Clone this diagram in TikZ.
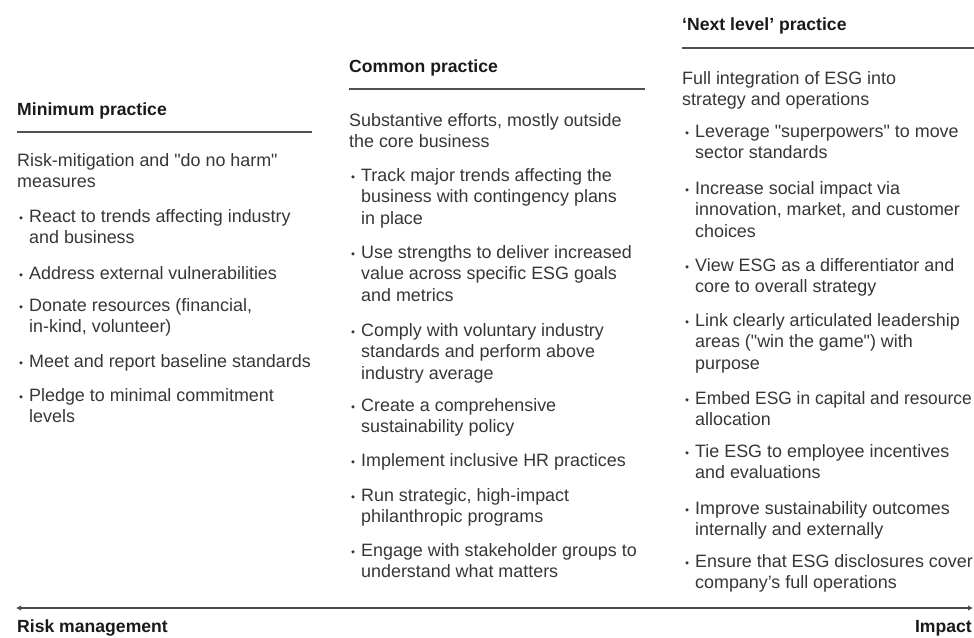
\documentclass[tikz,border=0pt]{standalone}
\usepackage{fontspec}
\setmainfont{Liberation Sans}[Ligatures=TeXOff]
\usetikzlibrary{arrows.meta}
\definecolor{bodyc}{HTML}{363636}
\definecolor{headc}{HTML}{1A1A1A}
\definecolor{rulec}{HTML}{48525A}
\definecolor{axisc}{HTML}{4A4A4A}
\newcommand\ml[1]{\begin{tabular}[t]{@{}l@{}}#1\end{tabular}}
\tikzset{
  txt/.style={inner sep=0pt, anchor=base west, text=bodyc, font=\fontsize{17.9}{21.3}\selectfont},
  head/.style={inner sep=0pt, anchor=base west, text=headc, font=\fontsize{17.6}{21.3}\selectfont\bfseries},
  rulestyle/.style={draw=rulec, line width=2.4pt},
  axisstyle/.style={draw=axisc, line width=2.6pt, {Latex[length=5pt,width=5.5pt]}-{Latex[length=5pt,width=5.5pt]}},
  bdot/.style={fill=bodyc}
}
\newcommand\bitem[4]{%
  \node[txt] (#1) at (#2,#3) {\ml{#4}};
  \fill[bdot] ([xshift=-8pt,yshift=4.6pt]#1.base west) circle (1.8pt);
}
\begin{document}
\begin{tikzpicture}[x=1pt,y=-1pt]
\useasboundingbox (0,0) rectangle (974,637);

% ---------- Column 1 ----------
\node[head] (h1) at (17,115.5) {Minimum practice};
\coordinate (r1a) at (17,132);
\coordinate (r1b) at (312,132);
\draw[rulestyle] (r1a) -- (r1b);
\node[txt] (s1) at (17,166.5) {\ml{Risk-mitigation and "do no harm"\\measures}};
\bitem{a1}{29}{222.5}{React to trends affecting industry\\and business}
\bitem{a2}{29}{279.5}{Address external vulnerabilities}
\bitem{a3}{29}{311.5}{Donate resources (financial,\\in-kind, volunteer)}
\bitem{a4}{29}{367.5}{Meet and report baseline standards}
\bitem{a5}{29}{401.5}{Pledge to minimal commitment\\levels}

% ---------- Column 2 ----------
\node[head] (h2) at (349,72.5) {Common practice};
\coordinate (r2a) at (349,89);
\coordinate (r2b) at (645,89);
\draw[rulestyle] (r2a) -- (r2b);
\node[txt] (s2) at (349,126.5) {\ml{Substantive efforts, mostly outside\\the core business}};
\bitem{b1}{361}{181.5}{Track major trends affecting the\\business with contingency plans\\in place}
\bitem{b2}{361}{258.5}{Use strengths to deliver increased\\value across specific ESG goals\\and metrics}
\bitem{b3}{361}{336.5}{Comply with voluntary industry\\standards and perform above\\industry average}
\bitem{b4}{361}{411.5}{Create a comprehensive\\sustainability policy}
\bitem{b5}{361}{466.5}{Implement inclusive HR practices}
\bitem{b6}{361}{501.5}{Run strategic, high-impact\\philanthropic programs}
\bitem{b7}{361}{556.5}{Engage with stakeholder groups to\\understand what matters}

% ---------- Column 3 ----------
\node[head] (h3) at (682,30.5) {‘Next level’ practice};
\coordinate (r3a) at (682,48);
\coordinate (r3b) at (974,48);
\draw[rulestyle] (r3a) -- (r3b);
\node[txt] (s3) at (682,84.5) {\ml{Full integration of ESG into\\strategy and operations}};
\bitem{c1}{695}{137.5}{Leverage "superpowers" to move\\sector standards}
\bitem{c2}{695}{194.5}{Increase social impact via\\innovation, market, and customer\\choices}
\bitem{c3}{695}{271.5}{View ESG as a differentiator and\\core to overall strategy}
\bitem{c4}{695}{326.5}{Link clearly articulated leadership\\areas ("win the game") with\\purpose}
\bitem{c5}{695}{404.5}{{\addfontfeature{FakeStretch=0.972}Embed ESG in capital and resource}\\allocation}
\bitem{c6}{695}{457.5}{Tie ESG to employee incentives\\and evaluations}
\bitem{c7}{695}{514.5}{Improve sustainability outcomes\\internally and externally}
\bitem{c8}{695}{567.5}{Ensure that ESG disclosures cover\\company’s full operations}

% ---------- Axis ----------
\coordinate (axl) at (16,608);
\coordinate (axr) at (973,608);
\draw[axisstyle] (axl) -- (axr);
\node[head] (risk) at (17,632) {Risk management};
\node[head, anchor=base east] (impact) at (972,632) {Impact};
\end{tikzpicture}
\end{document}
